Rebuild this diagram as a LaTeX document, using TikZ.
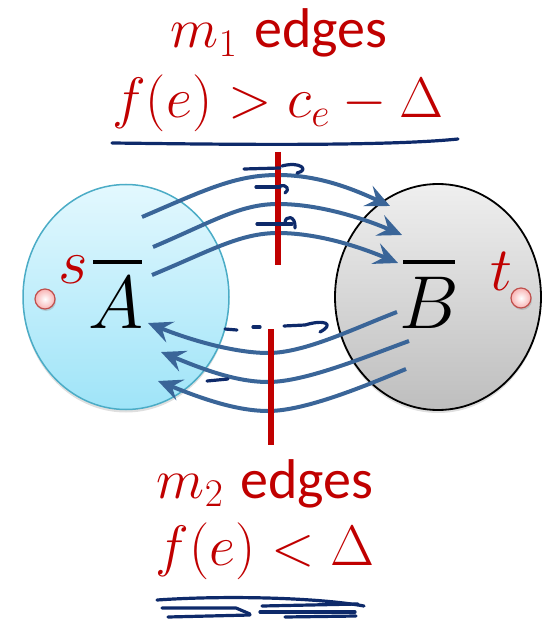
\RequirePackage{fix-cm}
\documentclass[tikz,border=0pt]{standalone}
\usepackage{fontspec}
\setsansfont{Carlito}
\usetikzlibrary{arrows.meta,shapes.geometric,shadows}
\definecolor{redtxt}{HTML}{C00000}
\definecolor{arrowblue}{HTML}{3A6598}
\definecolor{inkblue}{HTML}{0E2A6A}
\definecolor{acyanT}{HTML}{E3F8FE}
\definecolor{acyanB}{HTML}{9FE4F8}
\definecolor{aborder}{HTML}{4BACC6}
\definecolor{bgrayT}{HTML}{EFEFEF}
\definecolor{bgrayB}{HTML}{BEBEBE}
\definecolor{dotfill}{HTML}{F8B4B4}
\definecolor{dotborder}{HTML}{C0504D}
\tikzset{
  setA/.style={ellipse, draw=aborder, line width=1.5pt, top color=acyanT, bottom color=acyanB,
    minimum width=206pt, minimum height=225pt, inner sep=0pt,
    drop shadow={opacity=0.25, shadow xshift=0pt, shadow yshift=-3pt}},
  setB/.style={ellipse, draw=black, line width=1.8pt, top color=bgrayT, bottom color=bgrayB,
    minimum width=206pt, minimum height=226pt, inner sep=0pt,
    drop shadow={opacity=0.25, shadow xshift=0pt, shadow yshift=-3pt}},
  vertex/.style={circle, draw=dotborder, line width=1.2pt, inner color=white, outer color=dotfill,
    minimum size=20pt, inner sep=0pt,
    drop shadow={opacity=0.3, shadow xshift=1pt, shadow yshift=-2pt}},
  flowarrow/.style={draw=arrowblue, line width=4pt,
    -{Stealth[length=24pt, width=22pt, inset=9pt]}},
  cutline/.style={draw=redtxt, line width=6.5pt},
  ink/.style={draw=inkblue, line width=3.2pt, line cap=round, line join=round},
  label/.style={text=redtxt, inner sep=0pt, anchor=base},
  setname/.style={inner sep=0pt, anchor=base, font=\fontsize{75}{80}\selectfont},
}
\begin{document}
\begin{tikzpicture}[x=1pt, y=-1pt]
\useasboundingbox (0,0) rectangle (549,620);

% sets
\node[setA] (A) at (126,297) {};
\node[setB] (B) at (438,297) {};

% vertices
\node[vertex] (s) at (45,299) {};
\node[vertex] (t) at (521,298) {};
\node[label, font=\fontsize{64}{70}\selectfont] (slab) at (73,283) {$s$};
\node[label, font=\fontsize{62}{70}\selectfont] (tlab) at (501,290) {$t$};

% set names
\node[setname] (Aname) at (116,328) {$A$};
\node[setname] (Bname) at (429,328) {$B$};
\draw[line width=3.2pt] (93,262) -- (142,262);
\draw[line width=3.2pt] (403,262) -- (455,262);

% forward arrows A -> B
\coordinate (f1s) at (142,217); \coordinate (f1e) at (390,206);
\coordinate (f2s) at (153,247); \coordinate (f2e) at (402,235);
\coordinate (f3s) at (152,275); \coordinate (f3e) at (398,263);
\draw[flowarrow] (f1s) .. controls (205,190) and (235,175) .. (278,175)
  .. controls (320,175) and (355,190) .. (f1e);
\draw[flowarrow] (f2s) .. controls (212,222) and (240,204) .. (278,204)
  .. controls (320,204) and (365,219) .. (f2e);
\draw[flowarrow] (f3s) .. controls (210,251) and (240,233) .. (278,233)
  .. controls (318,233) and (360,247) .. (f3e);

% backward arrows B -> A
\coordinate (b1s) at (397,312); \coordinate (b1e) at (148,323);
\coordinate (b2s) at (409,341); \coordinate (b2e) at (161,352);
\coordinate (b3s) at (406,369); \coordinate (b3e) at (158,381);
\draw[flowarrow] (b1s) .. controls (355,328) and (305,353) .. (268,353)
  .. controls (235,353) and (190,340) .. (b1e);
\draw[flowarrow] (b2s) .. controls (365,357) and (305,382) .. (268,382)
  .. controls (235,382) and (200,368) .. (b2e);
\draw[flowarrow] (b3s) .. controls (365,386) and (305,411) .. (268,411)
  .. controls (235,411) and (198,397) .. (b3e);

% cut lines
\coordinate (c1t) at (278,152); \coordinate (c1b) at (278,265);
\coordinate (c2t) at (271,329); \coordinate (c2b) at (271,445);
\draw[cutline] (c1t) -- (c1b);
\draw[cutline] (c2t) -- (c2b);

% texts
\node[label] (m1) at (279,48) {\fontsize{56}{60}\selectfont$m_1$ \sffamily edges};
\node[label] (cond1) at (278,118) {\fontsize{57}{60}\selectfont$f(e)>c_e-\Delta$};
\node[label] (m2) at (265,498) {\fontsize{56}{60}\selectfont$m_2$ \sffamily edges};
\node[label] (cond2) at (265,565) {\fontsize{57}{60}\selectfont$f(e)<\Delta$};

% hand-drawn ink
\draw[ink] (112,143) .. controls (200,144) and (380,147) .. (458,139);
\draw[ink] (244,169) -- (280,168);
\draw[ink] (282,166) .. controls (300,161) and (310,170) .. (297,173);
\draw[ink] (256,187) -- (280,187);
\draw[ink] (280,186) .. controls (287,184) and (290,190) .. (285,193);
\draw[ink] (257,224) -- (292,224);
\draw[ink] (285,223) .. controls (285,215) and (296,215) .. (295,228);
\draw[ink] (225,329) -- (237,330);
\draw[ink] (253,327) -- (260,327);
\draw[ink] (284,326) -- (305,325) .. controls (325,319) and (335,324) .. (320,332);
\draw[ink] (207,381) -- (228,379);
% scribble under m2
\draw[ink] (157,600) .. controls (230,595) and (320,598) .. (364,606);
\draw[ink] (162,608) -- (236,608) -- (250,614);
\draw[ink] (168,617) -- (250,615);
\draw[ink] (262,606) -- (358,604);
\draw[ink] (260,612) -- (355,612);
\draw[ink] (285,617) -- (356,616);
\end{tikzpicture}
\end{document}
